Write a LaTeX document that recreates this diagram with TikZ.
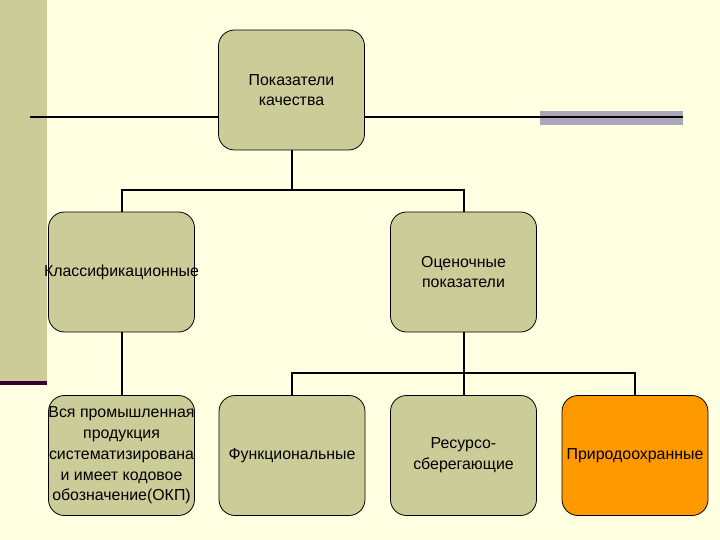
\documentclass[tikz,border=0pt]{standalone}
\usepackage{fontspec}
\setmainfont{Liberation Sans}
\usepackage{tikz}
\usetikzlibrary{calc,positioning}
\definecolor{slidebg}{RGB}{255,255,225}
\definecolor{olivec}{RGB}{204,204,153}
\definecolor{plumc}{RGB}{51,0,51}
\definecolor{greyc}{RGB}{170,168,184}
\definecolor{orangec}{RGB}{255,153,0}
\tikzset{
  box/.style={rectangle,rounded corners=16pt,draw=black,line width=0.8pt,fill=olivec,
    minimum width=146pt,minimum height=120pt,inner sep=0pt,align=center,
    font=\fontsize{15.9}{20.7}\selectfont},
  txt/.style={align=center,font=\fontsize{15.9}{20.7}\selectfont,inner sep=0pt},
  conn/.style={line width=2pt,black},
  rule/.style={line width=2pt,black!90!plumc},
}

\begin{document}
\begin{tikzpicture}[x=1pt,y=-1pt]
  % slide background
  \fill[slidebg] (0,0) rectangle (720,540);
  \fill[olivec] (0,0) rectangle (47,381);
  \fill[plumc] (0,381) rectangle (47,385);
  \fill[greyc] (540,111) rectangle (683,125);
  \draw[rule] (30,117) -- (683,117);
  % boxes
  \node[box] (top) at (291.5,90) {Показатели\\качества};
  \node[box,label={[txt]center:Классификационные}] (klass) at (121.5,272) {};
  \node[box] (otsen) at (463.5,272) {Оценочные\\показатели};
  \node[box,label={[txt]center:Вся промышленная\\продукция\\систематизирована\\и имеет кодовое\\обозначение(ОКП)}] (okp) at (121.5,455.5) {};
  \node[box] (funk) at (292,455.5) {Функциональные};
  \node[box] (res) at (463.5,455.5) {Ресурсо-\\сберегающие};
  \node[box,fill=orangec] (prir) at (635,455.5) {Природоохранные};
  % connectors
  \draw[conn] (top.south) -- ++(0,40) coordinate (j1);
  \draw[conn] (klass.north) |- (j1) -| (otsen.north);
  \draw[conn] (klass.south) -- (okp.north);
  \draw[conn] (otsen.south) -- ++(0,41) coordinate (j2);
  \draw[conn] (funk.north) |- (j2) -| (prir.north);
  \draw[conn] (j2) -- (res.north);
\end{tikzpicture}
\end{document}
